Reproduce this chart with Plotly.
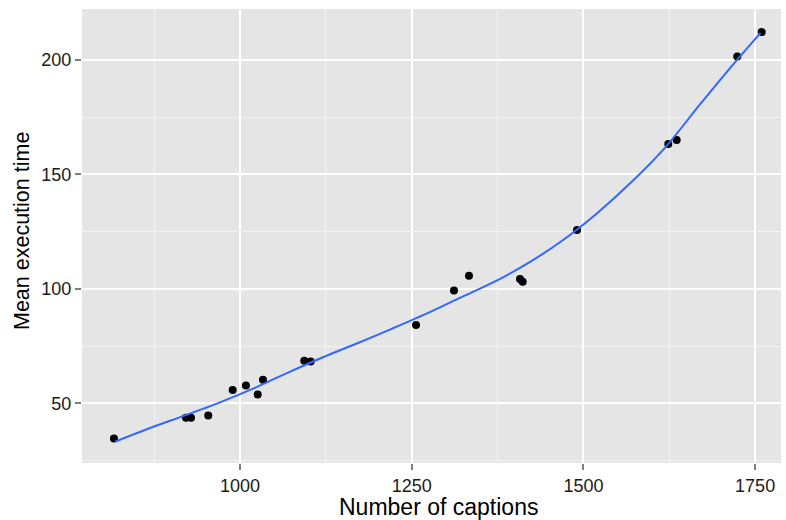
import plotly.graph_objects as go

# Observed points
captions = [816.5, 921.4, 928.7, 953.8, 989.4, 1008.7, 1025.8, 1033.5, 1093.6, 1102.9,
            1256.3, 1311.6, 1333.4, 1407.7, 1411.6, 1490.7, 1623.6, 1635.8, 1724.0, 1759.6]
exec_time = [34.6, 43.7, 43.7, 44.6, 55.8, 57.7, 53.8, 60.3, 68.6, 68.2,
             84.2, 99.2, 105.7, 104.3, 103.1, 125.7, 163.2, 165.0, 201.4, 212.1]

# Smoothed curve
smooth_x = [818, 870, 920, 970, 1020, 1070, 1120, 1170, 1220, 1270, 1320, 1370, 1420,
            1470, 1520, 1570, 1620, 1670, 1720, 1758]
smooth_y = [33.2, 39.3, 44.7, 50.3, 56.5, 63.4, 70.0, 76.1, 82.4, 88.9, 96.0, 103.0, 111.3,
            121.2, 133.0, 146.6, 162.0, 180.6, 198.7, 211.8]

x_ticks = [1000, 1250, 1500, 1750]
y_ticks = [50, 100, 150, 200]
x_title = "Number of captions"
y_title = "Mean execution time"

FONT = "Liberation Sans, Arial, Helvetica, sans-serif"

fig = go.Figure()
fig.add_trace(go.Scatter(x=captions, y=exec_time, mode="markers",
                         marker=dict(color="black", size=8), showlegend=False,
                         cliponaxis=False))
fig.add_trace(go.Scatter(x=smooth_x, y=smooth_y, mode="lines",
                         line=dict(color="#3366FF", width=2, shape="spline", smoothing=0.8),
                         showlegend=False))

axis_common = dict(
    showgrid=True, gridcolor="white", gridwidth=2,
    zeroline=False, showline=False,
    ticks="outside", ticklen=6, tickwidth=1.5, tickcolor="#7F7F7F",
    tickfont=dict(family=FONT, size=18, color="#1a1a1a"),
)

fig.update_layout(
    width=786, height=520,
    margin=dict(l=82, r=5, t=9, b=57),
    paper_bgcolor="white", plot_bgcolor="#E5E5E5",
    xaxis=dict(axis_common, range=[770, 1787.7], tickvals=x_ticks,
               ticktext=[str(v) for v in x_ticks],
               minor=dict(tick0=875, dtick=250, showgrid=True, gridcolor="#F2F2F2",
                          gridwidth=1, ticks="")),
    yaxis=dict(axis_common, range=[23.9, 222.2], tickvals=y_ticks,
               ticktext=[str(v) for v in y_ticks],
               minor=dict(tick0=25, dtick=50, showgrid=True, gridcolor="#F2F2F2",
                          gridwidth=1, ticks="")),
    annotations=[
        dict(text=x_title, xref="paper", yref="paper", x=0.5093, y=-0.0969,
             xanchor="center", yanchor="middle", showarrow=False,
             font=dict(family=FONT, size=23, color="black")),
        dict(text=y_title, xref="paper", yref="paper", x=-0.0858, y=0.511,
             xanchor="center", yanchor="middle", showarrow=False, textangle=-90,
             font=dict(family=FONT, size=21.5, color="black")),
    ],
)

fig.write_html("out.html")
